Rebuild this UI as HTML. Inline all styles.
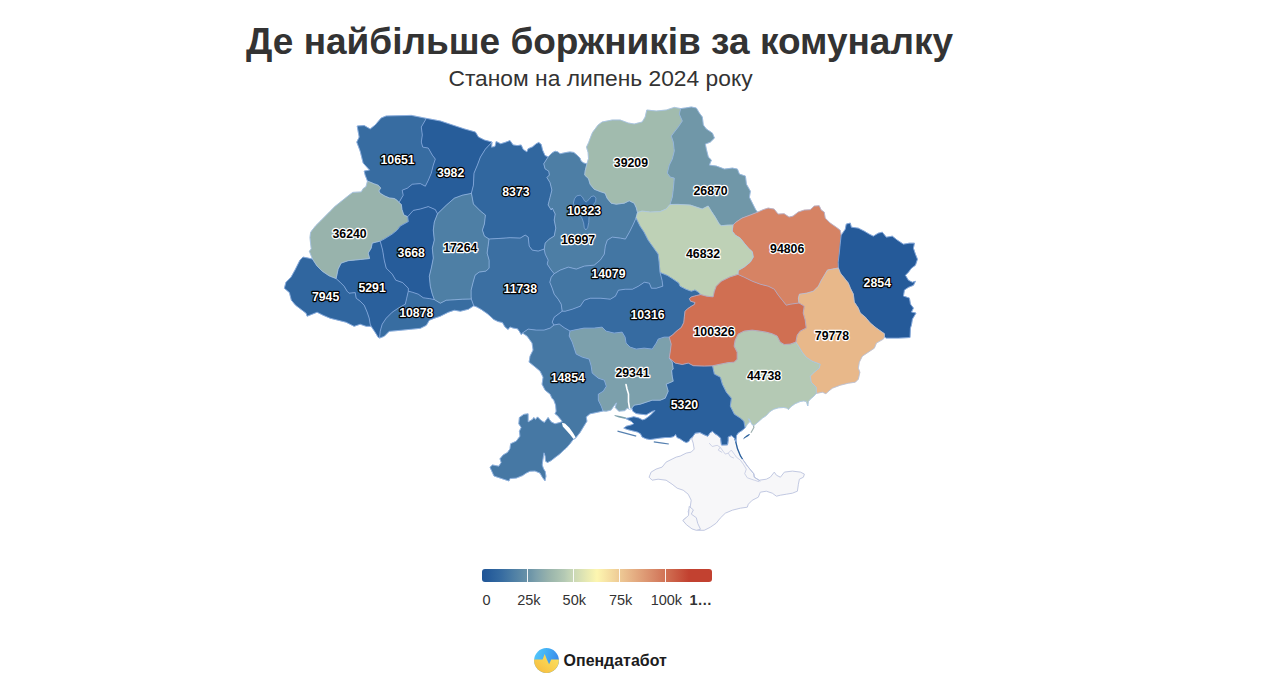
<!DOCTYPE html>
<html lang="uk"><head><meta charset="utf-8"><title>Де найбільше боржників за комуналку</title>
<style>
html,body{margin:0;padding:0;background:#fff;}
body{width:1280px;height:689px;overflow:hidden;position:relative;font-family:"Liberation Sans",sans-serif;}
#map{position:absolute;left:0;top:0;width:1280px;height:689px;}
.ttl{font-family:"Liberation Sans",sans-serif;font-weight:bold;font-size:37px;fill:#333;text-anchor:middle;}
.sub{font-family:"Liberation Sans",sans-serif;font-size:22.8px;fill:#333;text-anchor:middle;}
.dl{font-family:"Liberation Sans",sans-serif;font-weight:bold;font-size:12.3px;text-anchor:middle;paint-order:stroke;stroke-width:2.4px;stroke-linejoin:round;}
.ax{font-family:"Liberation Sans",sans-serif;font-size:14.5px;fill:#333;text-anchor:middle;}
.logo{font-family:"Liberation Sans",sans-serif;font-weight:bold;font-size:15.8px;fill:#1c1c1c;}
</style></head><body>
<svg id="map" width="1280" height="689" viewBox="0 0 1280 689">
<defs>
<linearGradient id="lg" x1="0" x2="1" y1="0" y2="0">
<stop offset="0" stop-color="#1f5597"/><stop offset="0.023" stop-color="#255a99"/><stop offset="0.03" stop-color="#265c9a"/><stop offset="0.0426" stop-color="#2a609c"/><stop offset="0.067" stop-color="#31679f"/><stop offset="0.085" stop-color="#376ca1"/><stop offset="0.138" stop-color="#4e7fa5"/><stop offset="0.215" stop-color="#7097a8"/><stop offset="0.235" stop-color="#7ca0ac"/><stop offset="0.29" stop-color="#98b3ac"/><stop offset="0.314" stop-color="#a1bbae"/><stop offset="0.358" stop-color="#b4c9b4"/><stop offset="0.375" stop-color="#bed1b6"/><stop offset="0.5" stop-color="#fdf6b0"/><stop offset="0.638" stop-color="#e8b88a"/><stop offset="0.758" stop-color="#d68364"/><stop offset="0.803" stop-color="#d06f52"/><stop offset="0.9" stop-color="#c24130"/><stop offset="1" stop-color="#c24130"/>
</linearGradient>
<linearGradient id="lgo" x1="0" x2="1" y1="0" y2="0.3">
<stop offset="0" stop-color="#58cdfb"/><stop offset="0.45" stop-color="#45b2f5"/><stop offset="1" stop-color="#3a86e8"/>
</linearGradient>
<linearGradient id="lgy" x1="0" x2="1" y1="1" y2="0">
<stop offset="0" stop-color="#f6b43a"/><stop offset="0.5" stop-color="#f9cf4e"/><stop offset="1" stop-color="#fbe463"/>
</linearGradient>
<clipPath id="cc"><circle cx="546.5" cy="660.5" r="12.4"/></clipPath>
</defs>
<text x="599.5" y="53.6" class="ttl">Де найбільше боржників за комуналку</text>
<text x="600.5" y="86.4" class="sub">Станом на липень 2024 року</text>
<g id="regions">
<path d="M692.5 436.9 L695.2 433.1 L700 432.5 L703.8 434.5 L707.8 436.2 L710 432.8 L712.5 431.2 L715 433.8 L717.5 435.2 L720.6 438.1 L721.5 445 L727.5 444.8 L728.1 440.6 L728.1 436.9 L731.5 435.6 L734.8 438.5 L736 441.9 L737.5 448.8 L740.6 456.2 L742.5 459 L747.5 466.2 L753.8 473.8 L754.3 477.2 L759.3 480.2 L766.3 479.2 L770.3 477.2 L774.3 472.1 L776.4 475.2 L780.4 477.2 L784.4 472.1 L792.4 471.1 L800.4 472.1 L804.4 474.1 L803.4 477.2 L799.4 479.2 L798.4 484.2 L797.4 491.2 L792.4 493.2 L786.4 494.2 L780.4 495.2 L776.4 496.2 L772.3 493.2 L766.3 491.2 L760.3 492.2 L758.3 497.2 L752.3 500.2 L748.3 504.2 L747.3 507.2 L740.3 508.2 L732.3 510.2 L725.3 513.2 L720.2 518.2 L716.2 523.2 L710.2 527.3 L704.2 530.3 L698.2 530.3 L692.2 528.3 L686.2 524.2 L683.2 520.2 L685.2 518.2 L689.2 517.2 L688.2 511.2 L690.2 507.2 L691.2 500.2 L688.2 494.2 L683.2 490.2 L677.2 488.2 L672.1 484.2 L666.1 480.2 L658.1 479.2 L652.1 480.2 L649.1 477.2 L651.1 472.1 L656.1 469.1 L662.1 467.1 L666.1 462.1 L672.1 459.1 L676.2 457.1 L680.2 456.1 L686.2 453.1 L691.2 452.1 L694.2 449.1 L693.2 443.1 L691.8 439.1 Z" fill="#f7f7f9" stroke="#c2c9e2" stroke-width="1"/>
<path d="M689.2 506.4 L693.4 509.9 L691.3 514.1 L696.3 517.7 L697.7 523.3 L700.5 529.3 L696.3 530.3 L692 528.9 L686.4 524.7 L682.9 520.5 L688.5 515.5 Z" fill="#f7f7f9" stroke="#c2c9e2" stroke-width="1"/>
<path d="M709.2 443.1 L712.2 446.5 L717.2 445.3 L720.2 447.3 L723.2 451.3 L725.3 454.1 L728.3 453.1 L731.3 450.1 L734.3 454.1 L736.3 457.1 L740.3 460.1 L743.3 464.1 L746.3 469.1 L744.7 473.7 L747.3 477.8 L754.3 480.2 L759.3 481.8" fill="none" stroke="#c8cee4" stroke-width="0.9"/>
<path d="M720.2 447.3 L718.2 450.1 L722.2 452.5" fill="none" stroke="#c8cee4" stroke-width="0.9"/>
<path d="M728.3 453.1 L730.3 456.5 L733.9 458.1" fill="none" stroke="#c8cee4" stroke-width="0.9"/>
<path d="M367.5 181 L365.2 175.1 L364.2 171.1 L369.6 170.1 L363.2 163.1 L360.2 151.1 L356.8 142.1 L359.2 137.1 L357.2 126 L364.2 125.6 L370.2 129 L375.2 125 L381.2 118 L386.2 116 L411.3 115.4 L426.3 118.4 L421.3 127 L422.3 135.1 L421.3 142.1 L422.7 147.1 L428.3 148.1 L432.3 155.1 L435.3 159.1 L433.3 165.1 L431.3 173.1 L428.3 180.2 L425.3 186.2 L420.3 183.6 L412.3 184.2 L407.3 188.2 L402.2 190.2 L403.2 195.2 L399 202.5 L397.2 200.4 L394.3 198.5 L389.6 198 L384.9 196.1 L380.2 193.3 L378.8 190.9 L380.7 188.1 L378.3 185.3 L374.5 183.9 L369.8 182 Z" fill="#376ca1" stroke="#376ca1" stroke-width="0.6"/>
<path d="M426.3 118.4 L440.3 121 L452.3 125 L464.4 129 L475.4 132.1 L478.4 137.1 L484.4 140.1 L492 142.1 L485.4 149.1 L480.4 157.1 L477.4 165.1 L474 173.1 L473.4 185.2 L471.4 193.2 L469.4 193.8 L462.4 195.2 L454.3 198.2 L446.3 205.2 L437.5 213.8 L435.3 209.6 L428.3 206.6 L420.3 209 L413.3 210.4 L407.7 216.7 L403.8 215 L401.9 209.3 L401.4 204.6 L399 202.5 L403.2 195.2 L402.2 190.2 L407.3 188.2 L412.3 184.2 L420.3 183.6 L425.3 186.2 L428.3 180.2 L431.3 173.1 L433.3 165.1 L435.3 159.1 L432.3 155.1 L428.3 148.1 L422.7 147.1 L421.3 142.1 L422.3 135.1 L421.3 127 Z" fill="#275d9a" stroke="#275d9a" stroke-width="0.6"/>
<path d="M492 142.1 L491.5 147.2 L495 146.5 L496.2 141.5 L500.6 143.8 L505 142.5 L510 140.6 L513.1 145 L517.5 145.6 L521.2 145 L523.1 149.4 L526.9 151.9 L528.1 148.8 L532.5 146.9 L536.2 143.8 L538.8 142.5 L541.2 144.4 L542.5 150 L545 155.6 L548.1 156.9 L543.75 163.75 L545 168.75 L548.75 171.25 L549.4 175 L546.9 177.5 L550 182.5 L551.9 190 L550 197.5 L548.1 205 L551.25 210 L552.2 208 L555.2 214 L554.2 220 L555.8 228.1 L554.2 236.1 L549.2 239.1 L545.2 243.1 L544.2 249.1 L538.2 251.1 L532.2 250.1 L529.2 246.1 L528.2 237.1 L525.2 235.1 L520.2 238.1 L510.1 237.7 L498.1 238.5 L489 239 L484.4 236.1 L482.4 230.1 L484.4 224 L485.4 215 L480.4 211 L473.4 204 L471.4 193.2 L473.4 185.2 L474 173.1 L477.4 165.1 L480.4 157.1 L485.4 149.1 Z" fill="#31679f" stroke="#31679f" stroke-width="0.6"/>
<path d="M548.1 156.9 L551.9 153.1 L555 151.2 L558.1 151.9 L560 153.8 L566.2 152.5 L570 151.9 L573.8 152.5 L576.9 155 L580 158.1 L581.2 161.2 L583.8 163.1 L586.9 163.8 L585.1 171.1 L584.7 175.1 L588.5 178.7 L590.1 184.2 L594.1 189.2 L600.1 191.6 L605.1 193.2 L607.1 198.2 L611.2 203.2 L616.2 204.2 L624.2 203.2 L629.2 200.8 L634.2 203.2 L636.2 207.6 L637.5 212.5 L636 218 L633.4 224 L629.4 232.1 L625.4 239.1 L620.4 238.1 L612.3 237.1 L607.3 240.1 L605.3 246.1 L604.3 254.1 L600.3 260.1 L594.3 265.1 L584.3 266.1 L576.3 269.1 L568.3 267.1 L560.2 270.1 L554.2 273.7 L551.2 270.1 L547.2 264.1 L548.2 260.1 L545.2 254.1 L544.2 249.1 L545.2 243.1 L549.2 239.1 L554.2 236.1 L555.8 228.1 L554.2 220 L555.2 214 L552.2 208 L551.25 210 L548.1 205 L550 197.5 L551.9 190 L550 182.5 L546.9 177.5 L549.4 175 L548.75 171.25 L545 168.75 L543.75 163.75 Z" fill="#4d7ea5" stroke="#4d7ea5" stroke-width="0.6"/>
<path d="M586.9 163.8 L588.5 158.5 L588.1 152.5 L586.5 147.1 L588.7 142.5 L590.5 137.5 L592.5 132.5 L598.1 125 L602.1 122 L612.2 120 L620.2 120 L628.2 123 L634.2 124 L642.2 122 L645.2 117 L646.8 110 L656.2 111 L666.3 110 L674.3 107.4 L680.7 108.6 L679.3 114 L682.3 121 L678.3 127 L674.3 132.1 L671.3 136.1 L673.3 142.1 L674.3 151.1 L672.3 159.1 L669.3 165.1 L667.3 173.1 L670.3 177.1 L674.3 178.1 L673.3 189.2 L672.3 197.2 L670 204.5 L666.1 209 L660.1 211.6 L650.1 212 L642 211 L637.5 212.5 L636.2 207.6 L634.2 203.2 L629.2 200.8 L624.2 203.2 L616.2 204.2 L611.2 203.2 L607.1 198.2 L605.1 193.2 L600.1 191.6 L594.1 189.2 L590.1 184.2 L588.5 178.7 L584.7 175.1 L585.1 171.1 Z" fill="#a1bbae" stroke="#a1bbae" stroke-width="0.6"/>
<path d="M680.7 108.6 L685.3 108 L691.3 107 L696.3 108 L699.3 113 L702.3 117 L703.3 125 L706.3 129 L712.4 133.1 L714.4 138.1 L710.3 142.1 L705.3 144.1 L706.3 149.1 L708.3 157.1 L711.4 160.1 L709.3 165.1 L716.4 166.1 L724.4 169.1 L732.4 168.1 L737.4 169.1 L739.4 174.1 L745.4 176.1 L746.4 184.2 L750.4 191.2 L749.4 197.2 L752.4 203.2 L755.4 209.2 L757.5 212.2 L750.1 215.1 L742 218.1 L736 222.1 L733 225 L728.2 225.1 L721.2 225.7 L719.2 224 L715.2 217 L711.2 211 L708.2 206 L702.2 209 L696.2 207 L690.1 205 L678.1 204.4 L670 204.5 L672.3 197.2 L673.3 189.2 L674.3 178.1 L670.3 177.1 L667.3 173.1 L669.3 165.1 L672.3 159.1 L674.3 151.1 L673.3 142.1 L671.3 136.1 L674.3 132.1 L678.3 127 L682.3 121 L679.3 114 Z" fill="#7097a8" stroke="#7097a8" stroke-width="0.6"/>
<path d="M757.5 212.2 L763.1 209.7 L768.1 208.1 L774.1 209.1 L778.1 214.1 L784.1 213.7 L789.1 217.1 L793.1 216.1 L798.2 212.1 L804.2 210.1 L810.2 209.7 L814.2 206.1 L819.2 205.7 L821.2 210.1 L824.2 212.1 L825.2 218.1 L830.2 223.1 L836.2 227.2 L840.2 230.2 L841.2 235.2 L840.2 244.2 L839.2 254.2 L838.2 262.2 L838.4 268 L832.4 269.1 L827.4 270.1 L824.4 275.2 L821.4 280.2 L818.4 286.2 L813.4 291.2 L806.4 293.2 L799.4 294.2 L798.4 298.2 L799 303 L790.3 304.2 L786.3 305.2 L782.3 300.2 L778.3 295.2 L774.3 289.2 L768.3 286.2 L760.3 284.2 L752.3 281.2 L744.2 277.2 L738 274.4 L738.2 270.5 L744.2 267.1 L750.3 262.1 L753.3 257.1 L752.3 251.7 L748.3 248.1 L744.2 243.1 L740.2 238.1 L735.2 235.1 L732.2 231.1 L733 225 L736 222.1 L742 218.1 L750.1 215.1 Z" fill="#d68364" stroke="#d68364" stroke-width="0.6"/>
<path d="M841.2 235.2 L845.3 229.2 L846.3 224.1 L850.3 223.1 L851.3 227.2 L858.3 228.2 L864.3 231.2 L869.3 234.2 L873.3 236.2 L878.3 233.2 L882.3 232.2 L886.3 237.2 L892.3 236.2 L897.4 240.2 L903.4 244.2 L909.4 243.2 L914.4 243.2 L913.4 248.2 L915.4 254.2 L917.4 259.2 L915.4 265.2 L911.4 268.2 L908.4 272.2 L905.4 275.3 L908.4 280.3 L912.4 282.3 L915.4 281.3 L913.4 285.3 L908.4 287.3 L904.4 290 L903.4 296.1 L909.4 298.1 L910.4 304.1 L913.4 308.1 L911.4 312.1 L916 313.1 L912.4 319.1 L911.4 325.1 L910.4 328.1 L910 337.5 L898.4 338.1 L886.4 338.1 L884.4 337 L884.4 333.7 L876.4 328.1 L870.3 323.1 L865.3 317.1 L860.3 313.1 L858.3 308.1 L854.3 302.1 L853.3 294 L850.3 288 L848.3 283 L844.3 278 L840.3 273 L838.4 268 L838.2 262.2 L839.2 254.2 L840.2 244.2 Z" fill="#255a99" stroke="#255a99" stroke-width="0.6"/>
<path d="M884.4 337 L883.4 339.1 L876.4 343.1 L874.3 348.2 L868.3 352.2 L862.3 356.2 L859.3 362.2 L858.3 368.2 L859.9 372.2 L858.3 379.2 L855.3 382.2 L848.3 383.2 L840.3 385.2 L832.3 388.2 L827.9 391.8 L825.9 393.8 L822.6 392.2 L816.3 393.4 L816.2 387.2 L811.2 382.2 L810.2 376.2 L814.2 372.2 L819.2 368.2 L820.2 364.2 L812.2 361.2 L806.2 357.2 L802.2 352.2 L799.2 347.2 L795.8 342.1 L797.2 335.1 L800.2 331.1 L806.2 328.1 L805.2 320.1 L803.2 313.1 L804.2 306.1 L799 303 L798.4 298.2 L799.4 294.2 L806.4 293.2 L813.4 291.2 L818.4 286.2 L821.4 280.2 L824.4 275.2 L827.4 270.1 L832.4 269.1 L838.4 268 L840.3 273 L844.3 278 L848.3 283 L850.3 288 L853.3 294 L854.3 302.1 L858.3 308.1 L860.3 313.1 L865.3 317.1 L870.3 323.1 L876.4 328.1 L884.4 333.7 Z" fill="#e8b88a" stroke="#e8b88a" stroke-width="0.6"/>
<path d="M816.3 393.4 L813.75 396.25 L810 399.4 L808.4 401.6 L807.8 406 L806.4 401.6 L803.75 400.9 L800 401.6 L795 403.75 L790.6 406.9 L788.4 409.6 L786.9 408.1 L783.75 407.5 L778.75 407.8 L773.75 409.2 L770 411.5 L766.25 415.6 L762.5 418.1 L757.5 422.5 L754.4 425.1 L752.5 425 L751.25 423.1 L749.4 419.1 L748.4 418.75 L749.9 421.6 L747.5 424.1 L745.3 427.5 L745.1 427.9 L743.8 421.2 L740.4 418.2 L734.3 414.2 L730.3 406.2 L731.3 398.2 L726.3 392.2 L722.3 384.2 L720.3 377.2 L714.3 374.1 L712.5 365.8 L720 364.2 L728.1 362.6 L734.1 362.2 L737.1 359.2 L737.1 352.2 L734.1 346.2 L735.1 340.1 L738.1 334.1 L744.1 331.1 L752.1 330.1 L760.1 331.1 L766.1 332.1 L772.1 333.7 L777.2 336.1 L780.2 342.1 L784.2 344.5 L790.2 344.1 L795.8 342.1 L799.2 347.2 L802.2 352.2 L806.2 357.2 L812.2 361.2 L820.2 364.2 L819.2 368.2 L814.2 372.2 L810.2 376.2 L811.2 382.2 L816.2 387.2 Z" fill="#b4c9b4" stroke="#b4c9b4" stroke-width="0.6"/>
<path d="M745.1 427.9 L741.9 430.6 L738.1 433.1 L736.5 435.6 L736 441.9 L734.8 438.5 L731.5 435.6 L728.1 436.9 L728.1 440.6 L727.5 444.8 L721.5 445 L720.6 438.1 L717.5 435.2 L715 433.8 L712.5 431.2 L710 432.8 L707.8 436.2 L703.8 434.5 L700 432.5 L695.2 433.1 L692.5 436.9 L690.2 438.8 L688.8 441.5 L686.2 442.5 L683.5 441.2 L680 438.8 L677 437.5 L675.6 434.4 L673.8 436.5 L670 437.5 L665 437.5 L660 438.1 L655 438.8 L650 439.5 L646.2 438.8 L642.1 437 L640.6 433.8 L637.5 432 L632.5 430.8 L627.5 429.5 L623.8 428.1 L626.5 426.2 L631.2 425 L633.8 423.8 L631.2 421.2 L625.6 418.5 L628.8 418 L633.8 416.8 L638.8 418 L642.5 419.9 L645 419.2 L650 415.6 L655 410.5 L652.5 411.2 L646.2 414.8 L640 414.1 L636.2 413.5 L632.8 411.2 L631.9 408.1 L634.1 405.2 L640.2 404.2 L646.2 402.2 L652.2 400.2 L660.2 400.2 L665.2 398.2 L668.2 391.2 L666.2 384.2 L673.2 381.2 L672.2 376.2 L671.6 370.5 L673.2 369.1 L672.2 362.1 L669.2 358.1 L675.2 363.1 L682.2 364.5 L688.3 363.1 L693.3 365.7 L704.3 366.1 L712.5 365.8 L714.3 374.1 L720.3 377.2 L722.3 384.2 L726.3 392.2 L731.3 398.2 L730.3 406.2 L734.3 414.2 L740.4 418.2 L743.8 421.2 Z" fill="#2a609c" stroke="#2a609c" stroke-width="0.6"/>
<path d="M631.9 408.1 L630.6 410 L629 409 L627.2 408.1 L625 410.6 L618.8 411.2 L615.2 407.5 L616.5 402.8 L613.5 406.5 L611.2 410 L606.2 411.2 L603 411 L601.3 406.2 L598.3 400.2 L598.3 394.2 L603.3 391.2 L606.3 386.2 L604.3 380.2 L598.3 378.2 L592.2 373.1 L591.2 366.1 L589.2 359.1 L582.2 357.1 L576.2 354.1 L574.2 348.1 L572.2 342.1 L569.2 336.1 L570 331 L574 330.1 L584 328.1 L594.1 328.1 L602.1 327.1 L606.1 331.1 L614.1 333.1 L622.1 332.1 L625.1 337.1 L626.1 343.1 L630.1 347.1 L636.2 349.1 L644.2 348.1 L652.2 349.1 L656.2 343.1 L658.2 339.1 L664.2 337.1 L669.2 337.1 L671.2 344.1 L670.2 352.1 L669.2 358.1 L672.2 362.1 L673.2 369.1 L671.6 370.5 L672.2 376.2 L673.2 381.2 L666.2 384.2 L668.2 391.2 L665.2 398.2 L660.2 400.2 L652.2 400.2 L646.2 402.2 L640.2 404.2 L634.1 405.2 Z" fill="#7ca0ac" stroke="#7ca0ac" stroke-width="0.6"/>
<path d="M603 411 L596.2 412.5 L590 413.8 L586.2 416.9 L586.9 421.2 L583.8 426.2 L580 432.5 L575.6 438.1 L573.1 439.6 L570 443.8 L566.2 448.1 L562.5 451.2 L560 453.8 L555 457.5 L551.2 460.6 L547.5 462.5 L545.6 461.2 L545.2 456.2 L544 452.8 L542.8 460 L542.2 465 L543.5 468.8 L545.2 471.5 L545.9 476.2 L545 480.8 L542.5 477.5 L540 473.1 L535 471 L530 471.2 L526.2 473.1 L522.5 475.6 L516.2 478.1 L510 478.5 L509 481 L494 476 L490 467.2 L492.5 465 L498.8 466.2 L501.2 462.5 L500 458.8 L503.1 455 L507.5 452.5 L510 448.8 L510.6 443.8 L516.2 441.2 L520 436.2 L519.4 431.2 L521.2 427.5 L518.8 423.8 L519.4 417.5 L523.8 414.4 L528.1 413.8 L528.1 421.9 L532.5 419.4 L533.8 417.5 L535.6 419.4 L537.5 416.9 L541.2 420.6 L544.4 422.5 L548.1 417.5 L551.2 421.9 L555 423.8 L560 422.5 L562.2 421.6 L561.2 420 L557.5 415.6 L555 413.8 L556.2 411.2 L555.6 405 L553.8 400 L551.9 398.1 L550.2 394.2 L545.2 390.2 L542.1 384.2 L543.1 377.2 L540.1 371.1 L534.1 366.1 L529.1 362.1 L530.1 356.1 L533.1 350.1 L532.1 343.1 L527.1 336.1 L522.5 333 L528.1 329.1 L536.1 330.1 L544.1 330.1 L550.2 328.1 L554 325 L559.2 324 L564.2 327.7 L570 331 L569.2 336.1 L572.2 342.1 L574.2 348.1 L576.2 354.1 L582.2 357.1 L589.2 359.1 L591.2 366.1 L592.2 373.1 L598.3 378.2 L604.3 380.2 L606.3 386.2 L603.3 391.2 L598.3 394.2 L598.3 400.2 L601.3 406.2 Z" fill="#4678a4" stroke="#4678a4" stroke-width="0.6"/>
<path d="M522.5 333 L521.3 334.6 L519.5 331.5 L517.5 328.75 L513 328 L510 326.9 L508.1 329.4 L505 326.9 L502.5 322.5 L498 321.5 L493.75 319.4 L487.5 313.75 L481.25 309.4 L477 307 L473.75 305.8 L471.3 299 L471.1 296.2 L471.1 290.2 L473.1 282.2 L475.1 275.2 L479.1 272.1 L486.1 271.1 L489.1 268.1 L489.1 260.1 L487.1 253.1 L488.1 246.1 L489 239 L498.1 238.5 L510.1 237.7 L520.2 238.1 L525.2 235.1 L528.2 237.1 L529.2 246.1 L532.2 250.1 L538.2 251.1 L544.2 249.1 L545.2 254.1 L548.2 260.1 L547.2 264.1 L551.2 270.1 L554.2 273.7 L551.2 277.2 L549.8 282.2 L552.2 288.2 L554.2 294.2 L558.2 299.2 L561.2 304.2 L562.2 311.2 L558.2 314.2 L554.2 317.2 L552.2 322.2 L554 325 L550.2 328.1 L544.1 330.1 L536.1 330.1 L528.1 329.1 Z" fill="#3b6fa2" stroke="#3b6fa2" stroke-width="0.6"/>
<path d="M473.75 305.8 L468.4 309.2 L460.4 311.2 L454.3 310.2 L448.3 312.2 L440.3 316.2 L434.3 318.2 L429.3 320.2 L426.3 325.3 L420.3 328.3 L410.3 329.3 L400.2 330.3 L389.2 331.3 L384.2 336.3 L379.6 338 L380.2 331.3 L382.2 324.2 L386.2 318.2 L392.2 312.2 L398.2 308.2 L405.3 304.2 L406.7 298.2 L408.3 291.2 L412.3 292.2 L418.3 294.2 L423.3 297.8 L429.3 298.6 L434.3 299.6 L440.3 303.2 L446.3 300.2 L454.3 299.8 L462.4 299.2 L471.3 299 Z" fill="#386da1" stroke="#386da1" stroke-width="0.6"/>
<path d="M379.6 338 L378.2 337.3 L375.2 332.3 L371.2 326.3 L370.2 324.2 L369.2 318.2 L367.2 312.2 L364.2 305.2 L360.2 301.2 L356.2 298.2 L355.2 292.6 L349.1 293.2 L347.1 291.2 L344.1 286.2 L340.1 282.2 L336.1 278.6 L338.1 269.1 L341.1 263.1 L348.1 260.7 L360.2 259.5 L369.6 258.5 L368.2 253.1 L371.2 248.1 L372.2 243.1 L376.2 242.1 L380.2 241.1 L382.6 250.1 L384.2 260.1 L386.2 268.1 L392.2 274.1 L395.8 280.2 L402.6 282.6 L408.3 288.2 L408.3 291.2 L406.7 298.2 L405.3 304.2 L398.2 308.2 L392.2 312.2 L386.2 318.2 L382.2 324.2 L380.2 331.3 Z" fill="#2a609c" stroke="#2a609c" stroke-width="0.6"/>
<path d="M371.2 326.3 L366.2 326.3 L360.2 324.2 L354.1 326.3 L346.1 322.2 L338.1 320.2 L330.1 318.2 L323.1 315.2 L317.1 312.2 L312.1 314.2 L307.1 316.2 L306.1 313.2 L300 308.6 L295.6 305.2 L291.4 300.2 L289.4 292.6 L284.4 288.2 L286 282.2 L291 277.2 L295 270.1 L298 264.1 L300 260.1 L303 257.1 L308.1 258.1 L312.5 259.1 L317.1 266.1 L322.1 271.1 L329.1 275.8 L336.1 278.6 L340.1 282.2 L344.1 286.2 L347.1 291.2 L349.1 293.2 L355.2 292.6 L356.2 298.2 L360.2 301.2 L364.2 305.2 L367.2 312.2 L369.2 318.2 L370.2 324.2 Z" fill="#30669f" stroke="#30669f" stroke-width="0.6"/>
<path d="M312.5 259.1 L309.4 251.25 L311.25 248.75 L310.6 243.75 L310 237.5 L310.6 232.5 L312.3 230 L316 225.4 L320.8 220.7 L325.5 215.9 L330.2 211.2 L334.9 206.5 L339.6 202.7 L344.3 199 L349 195.2 L352.8 192.4 L361.3 191.9 L363.2 188.6 L366 186.7 L367.5 181 L369.8 182 L374.5 183.9 L378.3 185.3 L380.7 188.1 L378.8 190.9 L380.2 193.3 L384.9 196.1 L389.6 198 L394.3 198.5 L397.2 200.4 L399 202.5 L401.4 204.6 L401.9 209.3 L403.8 215 L407.7 216.7 L408.3 221.6 L400.2 226.1 L397.2 230.1 L392.2 234.1 L384.2 239.1 L380.2 241.1 L376.2 242.1 L372.2 243.1 L371.2 248.1 L368.2 253.1 L369.6 258.5 L360.2 259.5 L348.1 260.7 L341.1 263.1 L338.1 269.1 L336.1 278.6 L329.1 275.8 L322.1 271.1 L317.1 266.1 Z" fill="#98b3ac" stroke="#98b3ac" stroke-width="0.6"/>
<path d="M407.7 216.7 L413.3 210.4 L420.3 209 L428.3 206.6 L435.3 209.6 L437.5 213.8 L434.3 222 L433.3 230.1 L434.3 240.1 L432.3 248.1 L433.3 258.1 L431.3 268.1 L429.3 276.2 L430.3 286.2 L432.3 294.2 L434.3 299.6 L429.3 298.6 L423.3 297.8 L418.3 294.2 L412.3 292.2 L408.3 291.2 L408.3 288.2 L402.6 282.6 L395.8 280.2 L392.2 274.1 L386.2 268.1 L384.2 260.1 L382.6 250.1 L380.2 241.1 L384.2 239.1 L392.2 234.1 L397.2 230.1 L400.2 226.1 L408.3 221.6 Z" fill="#265c9a" stroke="#265c9a" stroke-width="0.6"/>
<path d="M437.5 213.8 L446.3 205.2 L454.3 198.2 L462.4 195.2 L469.4 193.8 L471.4 193.2 L473.4 204 L480.4 211 L485.4 215 L484.4 224 L482.4 230.1 L484.4 236.1 L489 239 L488.1 246.1 L487.1 253.1 L489.1 260.1 L489.1 268.1 L486.1 271.1 L479.1 272.1 L475.1 275.2 L473.1 282.2 L471.1 290.2 L471.1 296.2 L471.3 299 L462.4 299.2 L454.3 299.8 L446.3 300.2 L440.3 303.2 L434.3 299.6 L432.3 294.2 L430.3 286.2 L429.3 276.2 L431.3 268.1 L433.3 258.1 L432.3 248.1 L434.3 240.1 L433.3 230.1 L434.3 222 Z" fill="#4e7fa5" stroke="#4e7fa5" stroke-width="0.6"/>
<path d="M637.5 212.5 L642 211 L650.1 212 L660.1 211.6 L666.1 209 L670 204.5 L678.1 204.4 L690.1 205 L696.2 207 L702.2 209 L708.2 206 L711.2 211 L715.2 217 L719.2 224 L721.2 225.7 L728.2 225.1 L733 225 L732.2 231.1 L735.2 235.1 L740.2 238.1 L744.2 243.1 L748.3 248.1 L752.3 251.7 L753.3 257.1 L750.3 262.1 L744.2 267.1 L738.2 270.5 L738 274.4 L730 276.9 L721.25 281.25 L716.25 286.25 L714.4 291.25 L713.1 296.9 L706.5 296.2 L700.6 294.6 L698.75 292.5 L695 290 L691.25 291.25 L686.25 289.4 L680 286.25 L678.75 283.1 L672.5 278.75 L667.5 275.6 L660 272.4 L659.1 262.1 L658.1 254.1 L653.1 247.1 L648.1 240.1 L644 232.1 L640 226.1 L636 218 Z" fill="#bed1b6" stroke="#bed1b6" stroke-width="0.6"/>
<path d="M554.2 273.7 L560.2 270.1 L568.3 267.1 L576.3 269.1 L584.3 266.1 L594.3 265.1 L600.3 260.1 L604.3 254.1 L605.3 246.1 L607.3 240.1 L612.3 237.1 L620.4 238.1 L625.4 239.1 L629.4 232.1 L633.4 224 L636 218 L640 226.1 L644 232.1 L648.1 240.1 L653.1 247.1 L658.1 254.1 L659.1 262.1 L660 272.4 L662 280.2 L662.8 286.2 L656.4 288.2 L651.4 288.2 L649.4 283.2 L644.4 282.2 L638.4 286.2 L632.4 289.2 L625.4 289.2 L618.4 290.2 L615.4 296.2 L610.3 299.2 L600.3 298.2 L590.3 298.2 L584.3 300.2 L580.3 306.2 L572.3 309.2 L565.3 311.2 L562.2 311.2 L561.2 304.2 L558.2 299.2 L554.2 294.2 L552.2 288.2 L549.8 282.2 L551.2 277.2 Z" fill="#4376a3" stroke="#4376a3" stroke-width="0.6"/>
<path d="M562.2 311.2 L565.3 311.2 L572.3 309.2 L580.3 306.2 L584.3 300.2 L590.3 298.2 L600.3 298.2 L610.3 299.2 L615.4 296.2 L618.4 290.2 L625.4 289.2 L632.4 289.2 L638.4 286.2 L644.4 282.2 L649.4 283.2 L651.4 288.2 L656.4 288.2 L662.8 286.2 L662 280.2 L660 272.4 L667.5 275.6 L672.5 278.75 L678.75 283.1 L680 286.25 L686.25 289.4 L691.25 291.25 L695 290 L698.75 292.5 L700.6 294.6 L696.25 295.6 L691.25 296.9 L689.4 298.75 L690.6 301.25 L695 302.5 L694.4 304.4 L691.25 306.25 L687.5 308.75 L685 311.25 L684.4 316.25 L683.75 322.5 L681.25 327.5 L676.25 331.25 L672.5 335 L669.2 337.1 L664.2 337.1 L658.2 339.1 L656.2 343.1 L652.2 349.1 L644.2 348.1 L636.2 349.1 L630.1 347.1 L626.1 343.1 L625.1 337.1 L622.1 332.1 L614.1 333.1 L606.1 331.1 L602.1 327.1 L594.1 328.1 L584 328.1 L574 330.1 L570 331 L564.2 327.7 L559.2 324 L554 325 L552.2 322.2 L554.2 317.2 L558.2 314.2 Z" fill="#366ba1" stroke="#366ba1" stroke-width="0.6"/>
<path d="M700.6 294.6 L706.5 296.2 L713.1 296.9 L714.4 291.25 L716.25 286.25 L721.25 281.25 L730 276.9 L738 274.4 L744.2 277.2 L752.3 281.2 L760.3 284.2 L768.3 286.2 L774.3 289.2 L778.3 295.2 L782.3 300.2 L786.3 305.2 L790.3 304.2 L799 303 L804.2 306.1 L803.2 313.1 L805.2 320.1 L806.2 328.1 L800.2 331.1 L797.2 335.1 L795.8 342.1 L790.2 344.1 L784.2 344.5 L780.2 342.1 L777.2 336.1 L772.1 333.7 L766.1 332.1 L760.1 331.1 L752.1 330.1 L744.1 331.1 L738.1 334.1 L735.1 340.1 L734.1 346.2 L737.1 352.2 L737.1 359.2 L734.1 362.2 L728.1 362.6 L720 364.2 L712.5 365.8 L704.3 366.1 L693.3 365.7 L688.3 363.1 L682.2 364.5 L675.2 363.1 L669.2 358.1 L670.2 352.1 L671.2 344.1 L669.2 337.1 L672.5 335 L676.25 331.25 L681.25 327.5 L683.75 322.5 L684.4 316.25 L685 311.25 L687.5 308.75 L691.25 306.25 L694.4 304.4 L695 302.5 L690.6 301.25 L689.4 298.75 L691.25 296.9 L696.25 295.6 Z" fill="#d06f52" stroke="#d06f52" stroke-width="0.6"/>
<path d="M573.4 203.1 L574.5 198.8 L576.7 195.9 L580.3 195.2 L582.5 197.3 L584.3 200.6 L586.1 202.1 L589 199.5 L591.2 196.6 L594.1 195.9 L595.9 198.1 L595.6 201.7 L593.4 204.6 L591.2 208.9 L589 216.9 L588.7 222.7 L587.6 227.8 L585.8 230 L584.3 227.8 L583.6 222.7 L581.8 217.7 L578.9 214 L575.6 208.9 Z" fill="#366ba1" stroke="rgba(165,195,245,0.62)" stroke-width="0.8"/>
<path d="M614.4 415 L620 416 L626.2 417.5 L625.6 419 L618.8 417.5 L614.8 416 Z" fill="#7ca0ac"/>
<path d="M626 384.5 L627 389 L628.5 394 L628.5 402 L629.5 408 L631 411" fill="none" stroke="#fff" stroke-width="1.6" stroke-linecap="round"/>
<path d="M617.5 431.2 L625 433.1 L636.2 436.2" fill="none" stroke="#2a609c" stroke-width="1.2" opacity="0.8"/>
<path d="M653.8 441.9 L662.5 443.1 L668.8 444" fill="none" stroke="#2a609c" stroke-width="1.2" opacity="0.8"/>
<path d="M735 438.8 L737.5 448.8 L740.6 456.2 L742.5 459" fill="none" stroke="#2a609c" stroke-width="1.3"/>
<path d="M742.5 459 L747.5 466.2 L753.8 473.8 L754.3 477.2 L760.3 481.2" fill="none" stroke="#b9c3e0" stroke-width="1"/>
<path d="M753.4 425.3 L753.9 427.5 L752.5 430 L750.9 432.8" fill="none" stroke="#9fb0b0" stroke-width="1.2"/>
<path d="M750 434.4 L748.1 436.2 L745 438.1 L743.1 439.4 L744.1 437.5 L746.9 435.3 L749.1 434.1 Z" fill="#2a609c"/>
<path d="M561.9 422.8 L565 423.5 L569.4 427.8 L573.1 433.1 L575.8 437.5 L573.5 439 L570.2 434.8 L566.2 430.2 L562.8 426.5 Z" fill="#fff"/>
<path d="M367.5 181 L365.2 175.1 L364.2 171.1 L369.6 170.1 L363.2 163.1 L360.2 151.1 L356.8 142.1 L359.2 137.1 L357.2 126 L364.2 125.6 L370.2 129 L375.2 125 L381.2 118 L386.2 116 L411.3 115.4 L426.3 118.4" fill="none" stroke="rgba(165,195,245,0.62)" stroke-width="1"/>
<path d="M426.3 118.4 L440.3 121 L452.3 125 L464.4 129 L475.4 132.1 L478.4 137.1 L484.4 140.1 L492 142.1" fill="none" stroke="rgba(165,195,245,0.62)" stroke-width="1"/>
<path d="M492 142.1 L491.5 147.2 L495 146.5 L496.2 141.5 L500.6 143.8 L505 142.5 L510 140.6 L513.1 145 L517.5 145.6 L521.2 145 L523.1 149.4 L526.9 151.9 L528.1 148.8 L532.5 146.9 L536.2 143.8 L538.8 142.5 L541.2 144.4 L542.5 150 L545 155.6 L548.1 156.9" fill="none" stroke="rgba(165,195,245,0.62)" stroke-width="1"/>
<path d="M548.1 156.9 L551.9 153.1 L555 151.2 L558.1 151.9 L560 153.8 L566.2 152.5 L570 151.9 L573.8 152.5 L576.9 155 L580 158.1 L581.2 161.2 L583.8 163.1 L586.9 163.8" fill="none" stroke="rgba(165,195,245,0.62)" stroke-width="1"/>
<path d="M586.9 163.8 L588.5 158.5 L588.1 152.5 L586.5 147.1 L588.7 142.5 L590.5 137.5 L592.5 132.5 L598.1 125 L602.1 122 L612.2 120 L620.2 120 L628.2 123 L634.2 124 L642.2 122 L645.2 117 L646.8 110 L656.2 111 L666.3 110 L674.3 107.4 L680.7 108.6" fill="none" stroke="rgba(165,195,245,0.62)" stroke-width="1"/>
<path d="M680.7 108.6 L685.3 108 L691.3 107 L696.3 108 L699.3 113 L702.3 117 L703.3 125 L706.3 129 L712.4 133.1 L714.4 138.1 L710.3 142.1 L705.3 144.1 L706.3 149.1 L708.3 157.1 L711.4 160.1 L709.3 165.1 L716.4 166.1 L724.4 169.1 L732.4 168.1 L737.4 169.1 L739.4 174.1 L745.4 176.1 L746.4 184.2 L750.4 191.2 L749.4 197.2 L752.4 203.2 L755.4 209.2 L757.5 212.2" fill="none" stroke="rgba(165,195,245,0.62)" stroke-width="1"/>
<path d="M757.5 212.2 L763.1 209.7 L768.1 208.1 L774.1 209.1 L778.1 214.1 L784.1 213.7 L789.1 217.1 L793.1 216.1 L798.2 212.1 L804.2 210.1 L810.2 209.7 L814.2 206.1 L819.2 205.7 L821.2 210.1 L824.2 212.1 L825.2 218.1 L830.2 223.1 L836.2 227.2 L840.2 230.2 L841.2 235.2" fill="none" stroke="rgba(165,195,245,0.62)" stroke-width="1"/>
<path d="M841.2 235.2 L845.3 229.2 L846.3 224.1 L850.3 223.1 L851.3 227.2 L858.3 228.2 L864.3 231.2 L869.3 234.2 L873.3 236.2 L878.3 233.2 L882.3 232.2 L886.3 237.2 L892.3 236.2 L897.4 240.2 L903.4 244.2 L909.4 243.2 L914.4 243.2 L913.4 248.2 L915.4 254.2 L917.4 259.2 L915.4 265.2 L911.4 268.2 L908.4 272.2 L905.4 275.3 L908.4 280.3 L912.4 282.3 L915.4 281.3 L913.4 285.3 L908.4 287.3 L904.4 290" fill="none" stroke="rgba(165,195,245,0.62)" stroke-width="1"/>
<path d="M904.4 290 L903.4 296.1 L909.4 298.1 L910.4 304.1 L913.4 308.1 L911.4 312.1 L916 313.1 L912.4 319.1 L911.4 325.1 L910.4 328.1 L910 337.5 L898.4 338.1 L886.4 338.1 L884.4 337" fill="none" stroke="rgba(165,195,245,0.62)" stroke-width="1"/>
<path d="M884.4 337 L883.4 339.1 L876.4 343.1 L874.3 348.2 L868.3 352.2 L862.3 356.2 L859.3 362.2 L858.3 368.2 L859.9 372.2 L858.3 379.2 L855.3 382.2 L848.3 383.2 L840.3 385.2 L832.3 388.2 L827.9 391.8 L825.9 393.8 L822.6 392.2 L816.3 393.4" fill="none" stroke="rgba(165,195,245,0.62)" stroke-width="1"/>
<path d="M816.3 393.4 L813.75 396.25 L810 399.4 L808.4 401.6 L807.8 406 L806.4 401.6 L803.75 400.9 L800 401.6 L795 403.75 L790.6 406.9 L788.4 409.6 L786.9 408.1 L783.75 407.5 L778.75 407.8 L773.75 409.2 L770 411.5 L766.25 415.6 L762.5 418.1 L757.5 422.5 L754.4 425.1 L752.5 425 L751.25 423.1 L749.4 419.1 L748.4 418.75 L749.9 421.6 L747.5 424.1 L745.3 427.5 L745.1 427.9" fill="none" stroke="rgba(165,195,245,0.62)" stroke-width="1"/>
<path d="M745.1 427.9 L741.9 430.6 L738.1 433.1 L736.5 435.6 L736 441.9 L734.8 438.5 L731.5 435.6 L728.1 436.9 L728.1 440.6 L727.5 444.8 L721.5 445 L720.6 438.1 L717.5 435.2 L715 433.8 L712.5 431.2 L710 432.8 L707.8 436.2 L703.8 434.5 L700 432.5 L695.2 433.1 L692.5 436.9 L690.2 438.8 L688.8 441.5 L686.2 442.5 L683.5 441.2 L680 438.8 L677 437.5 L675.6 434.4 L673.8 436.5 L670 437.5 L665 437.5 L660 438.1 L655 438.8 L650 439.5 L646.2 438.8 L642.1 437 L640.6 433.8 L637.5 432 L632.5 430.8 L627.5 429.5 L623.8 428.1 L626.5 426.2 L631.2 425 L633.8 423.8 L631.2 421.2 L625.6 418.5 L628.8 418 L633.8 416.8 L638.8 418 L642.5 419.9 L645 419.2 L650 415.6 L655 410.5 L652.5 411.2 L646.2 414.8 L640 414.1 L636.2 413.5 L632.8 411.2 L631.9 408.1" fill="none" stroke="rgba(165,195,245,0.62)" stroke-width="1"/>
<path d="M631.9 408.1 L630.6 410 L629 409 L627.2 408.1 L625 410.6 L618.8 411.2 L615.2 407.5 L616.5 402.8 L613.5 406.5 L611.2 410 L606.2 411.2 L603 411" fill="none" stroke="rgba(165,195,245,0.62)" stroke-width="1"/>
<path d="M603 411 L596.2 412.5 L590 413.8 L586.2 416.9 L586.9 421.2 L583.8 426.2 L580 432.5 L575.6 438.1 L573.1 439.6 L570 443.8 L566.2 448.1 L562.5 451.2 L560 453.8 L555 457.5 L551.2 460.6 L547.5 462.5 L545.6 461.2 L545.2 456.2 L544 452.8 L542.8 460 L542.2 465 L543.5 468.8 L545.2 471.5 L545.9 476.2 L545 480.8 L542.5 477.5 L540 473.1 L535 471 L530 471.2 L526.2 473.1 L522.5 475.6 L516.2 478.1 L510 478.5 L509 481 L494 476 L490 467.2 L492.5 465 L498.8 466.2 L501.2 462.5 L500 458.8 L503.1 455 L507.5 452.5 L510 448.8 L510.6 443.8 L516.2 441.2 L520 436.2 L519.4 431.2 L521.2 427.5 L518.8 423.8 L519.4 417.5 L523.8 414.4 L528.1 413.8 L528.1 421.9 L532.5 419.4 L533.8 417.5 L535.6 419.4 L537.5 416.9 L541.2 420.6 L544.4 422.5 L548.1 417.5 L551.2 421.9 L555 423.8 L560 422.5 L562.2 421.6 L561.2 420 L557.5 415.6 L555 413.8 L556.2 411.2 L555.6 405 L553.8 400 L551.9 398.1" fill="none" stroke="rgba(165,195,245,0.62)" stroke-width="1"/>
<path d="M551.9 398.1 L550.2 394.2 L545.2 390.2 L542.1 384.2 L543.1 377.2 L540.1 371.1 L534.1 366.1 L529.1 362.1 L530.1 356.1 L533.1 350.1 L532.1 343.1 L527.1 336.1 L522.5 333" fill="none" stroke="rgba(165,195,245,0.62)" stroke-width="1"/>
<path d="M522.5 333 L521.3 334.6 L519.5 331.5 L517.5 328.75 L513 328 L510 326.9 L508.1 329.4 L505 326.9 L502.5 322.5 L498 321.5 L493.75 319.4 L487.5 313.75 L481.25 309.4 L477 307 L473.75 305.8" fill="none" stroke="rgba(165,195,245,0.62)" stroke-width="1"/>
<path d="M473.75 305.8 L468.4 309.2 L460.4 311.2 L454.3 310.2 L448.3 312.2 L440.3 316.2 L434.3 318.2 L429.3 320.2 L426.3 325.3 L420.3 328.3 L410.3 329.3 L400.2 330.3 L389.2 331.3 L384.2 336.3 L379.6 338" fill="none" stroke="rgba(165,195,245,0.62)" stroke-width="1"/>
<path d="M379.6 338 L378.2 337.3 L375.2 332.3 L371.2 326.3" fill="none" stroke="rgba(165,195,245,0.62)" stroke-width="1"/>
<path d="M371.2 326.3 L366.2 326.3 L360.2 324.2 L354.1 326.3 L346.1 322.2 L338.1 320.2 L330.1 318.2 L323.1 315.2 L317.1 312.2 L312.1 314.2 L307.1 316.2 L306.1 313.2 L300 308.6 L295.6 305.2 L291.4 300.2 L289.4 292.6 L284.4 288.2 L286 282.2 L291 277.2 L295 270.1 L298 264.1 L300 260.1 L303 257.1 L308.1 258.1 L312.5 259.1" fill="none" stroke="rgba(165,195,245,0.62)" stroke-width="1"/>
<path d="M312.5 259.1 L309.4 251.25 L311.25 248.75 L310.6 243.75 L310 237.5 L310.6 232.5 L312.3 230 L316 225.4 L320.8 220.7 L325.5 215.9 L330.2 211.2 L334.9 206.5 L339.6 202.7 L344.3 199 L349 195.2 L352.8 192.4 L361.3 191.9 L363.2 188.6 L366 186.7 L367.5 181" fill="none" stroke="rgba(165,195,245,0.62)" stroke-width="1"/>
<path d="M426.3 118.4 L421.3 127 L422.3 135.1 L421.3 142.1 L422.7 147.1 L428.3 148.1 L432.3 155.1 L435.3 159.1 L433.3 165.1 L431.3 173.1 L428.3 180.2 L425.3 186.2 L420.3 183.6 L412.3 184.2 L407.3 188.2 L402.2 190.2 L403.2 195.2 L399 202.5" fill="none" stroke="rgba(165,195,245,0.62)" stroke-width="1"/>
<path d="M399 202.5 L397.2 200.4 L394.3 198.5 L389.6 198 L384.9 196.1 L380.2 193.3 L378.8 190.9 L380.7 188.1 L378.3 185.3 L374.5 183.9 L369.8 182 L367.5 181" fill="none" stroke="rgba(165,195,245,0.62)" stroke-width="1"/>
<path d="M399 202.5 L401.4 204.6 L401.9 209.3 L403.8 215 L407.7 216.7" fill="none" stroke="rgba(165,195,245,0.62)" stroke-width="1"/>
<path d="M407.7 216.7 L413.3 210.4 L420.3 209 L428.3 206.6 L435.3 209.6 L437.5 213.8" fill="none" stroke="rgba(165,195,245,0.62)" stroke-width="1"/>
<path d="M437.5 213.8 L446.3 205.2 L454.3 198.2 L462.4 195.2 L469.4 193.8 L471.4 193.2" fill="none" stroke="rgba(165,195,245,0.62)" stroke-width="1"/>
<path d="M471.4 193.2 L473.4 185.2 L474 173.1 L477.4 165.1 L480.4 157.1 L485.4 149.1 L492 142.1" fill="none" stroke="rgba(165,195,245,0.62)" stroke-width="1"/>
<path d="M471.4 193.2 L473.4 204 L480.4 211 L485.4 215 L484.4 224 L482.4 230.1 L484.4 236.1 L489 239" fill="none" stroke="rgba(165,195,245,0.62)" stroke-width="1"/>
<path d="M489 239 L498.1 238.5 L510.1 237.7 L520.2 238.1 L525.2 235.1 L528.2 237.1 L529.2 246.1 L532.2 250.1 L538.2 251.1 L544.2 249.1" fill="none" stroke="rgba(165,195,245,0.62)" stroke-width="1"/>
<path d="M544.2 249.1 L545.2 243.1 L549.2 239.1 L554.2 236.1 L555.8 228.1 L554.2 220 L555.2 214 L552.2 208 L551.25 210" fill="none" stroke="rgba(165,195,245,0.62)" stroke-width="1"/>
<path d="M551.25 210 L548.1 205 L550 197.5 L551.9 190 L550 182.5 L546.9 177.5 L549.4 175 L548.75 171.25 L545 168.75 L543.75 163.75 L548.1 156.9" fill="none" stroke="rgba(165,195,245,0.62)" stroke-width="1"/>
<path d="M586.9 163.8 L585.1 171.1 L584.7 175.1 L588.5 178.7 L590.1 184.2 L594.1 189.2 L600.1 191.6 L605.1 193.2 L607.1 198.2 L611.2 203.2 L616.2 204.2 L624.2 203.2 L629.2 200.8 L634.2 203.2 L636.2 207.6 L637.5 212.5" fill="none" stroke="rgba(165,195,245,0.62)" stroke-width="1"/>
<path d="M680.7 108.6 L679.3 114 L682.3 121 L678.3 127 L674.3 132.1 L671.3 136.1 L673.3 142.1 L674.3 151.1 L672.3 159.1 L669.3 165.1 L667.3 173.1 L670.3 177.1 L674.3 178.1 L673.3 189.2 L672.3 197.2 L670 204.5" fill="none" stroke="rgba(165,195,245,0.62)" stroke-width="1"/>
<path d="M670 204.5 L666.1 209 L660.1 211.6 L650.1 212 L642 211 L637.5 212.5" fill="none" stroke="rgba(165,195,245,0.62)" stroke-width="1"/>
<path d="M637.5 212.5 L636 218" fill="none" stroke="rgba(165,195,245,0.62)" stroke-width="1"/>
<path d="M670 204.5 L678.1 204.4 L690.1 205 L696.2 207 L702.2 209 L708.2 206 L711.2 211 L715.2 217 L719.2 224 L721.2 225.7 L728.2 225.1 L733 225" fill="none" stroke="rgba(165,195,245,0.62)" stroke-width="1"/>
<path d="M757.5 212.2 L750.1 215.1 L742 218.1 L736 222.1 L733 225" fill="none" stroke="rgba(165,195,245,0.62)" stroke-width="1"/>
<path d="M841.2 235.2 L840.2 244.2 L839.2 254.2 L838.2 262.2 L838.4 268" fill="none" stroke="rgba(165,195,245,0.62)" stroke-width="1"/>
<path d="M838.4 268 L832.4 269.1 L827.4 270.1 L824.4 275.2 L821.4 280.2 L818.4 286.2 L813.4 291.2 L806.4 293.2 L799.4 294.2 L798.4 298.2 L799 303" fill="none" stroke="rgba(165,195,245,0.62)" stroke-width="1"/>
<path d="M733 225 L732.2 231.1 L735.2 235.1 L740.2 238.1 L744.2 243.1 L748.3 248.1 L752.3 251.7 L753.3 257.1 L750.3 262.1 L744.2 267.1 L738.2 270.5 L738 274.4" fill="none" stroke="rgba(165,195,245,0.62)" stroke-width="1"/>
<path d="M738 274.4 L744.2 277.2 L752.3 281.2 L760.3 284.2 L768.3 286.2 L774.3 289.2 L778.3 295.2 L782.3 300.2 L786.3 305.2 L790.3 304.2 L799 303" fill="none" stroke="rgba(165,195,245,0.62)" stroke-width="1"/>
<path d="M738 274.4 L730 276.9 L721.25 281.25 L716.25 286.25 L714.4 291.25 L713.1 296.9 L706.5 296.2 L700.6 294.6" fill="none" stroke="rgba(165,195,245,0.62)" stroke-width="1"/>
<path d="M700.6 294.6 L698.75 292.5 L695 290 L691.25 291.25 L686.25 289.4 L680 286.25 L678.75 283.1 L672.5 278.75 L667.5 275.6 L660 272.4" fill="none" stroke="rgba(165,195,245,0.62)" stroke-width="1"/>
<path d="M660 272.4 L659.1 262.1 L658.1 254.1 L653.1 247.1 L648.1 240.1 L644 232.1 L640 226.1 L636 218" fill="none" stroke="rgba(165,195,245,0.62)" stroke-width="1"/>
<path d="M554.2 273.7 L560.2 270.1 L568.3 267.1 L576.3 269.1 L584.3 266.1 L594.3 265.1 L600.3 260.1 L604.3 254.1 L605.3 246.1 L607.3 240.1 L612.3 237.1 L620.4 238.1 L625.4 239.1 L629.4 232.1 L633.4 224 L636 218" fill="none" stroke="rgba(165,195,245,0.62)" stroke-width="1"/>
<path d="M544.2 249.1 L545.2 254.1 L548.2 260.1 L547.2 264.1 L551.2 270.1 L554.2 273.7" fill="none" stroke="rgba(165,195,245,0.62)" stroke-width="1"/>
<path d="M554.2 273.7 L551.2 277.2 L549.8 282.2 L552.2 288.2 L554.2 294.2 L558.2 299.2 L561.2 304.2 L562.2 311.2" fill="none" stroke="rgba(165,195,245,0.62)" stroke-width="1"/>
<path d="M562.2 311.2 L565.3 311.2 L572.3 309.2 L580.3 306.2 L584.3 300.2 L590.3 298.2 L600.3 298.2 L610.3 299.2 L615.4 296.2 L618.4 290.2 L625.4 289.2 L632.4 289.2 L638.4 286.2 L644.4 282.2 L649.4 283.2 L651.4 288.2 L656.4 288.2 L662.8 286.2 L662 280.2 L660 272.4" fill="none" stroke="rgba(165,195,245,0.62)" stroke-width="1"/>
<path d="M562.2 311.2 L558.2 314.2 L554.2 317.2 L552.2 322.2 L554 325" fill="none" stroke="rgba(165,195,245,0.62)" stroke-width="1"/>
<path d="M554 325 L550.2 328.1 L544.1 330.1 L536.1 330.1 L528.1 329.1 L522.5 333" fill="none" stroke="rgba(165,195,245,0.62)" stroke-width="1"/>
<path d="M554 325 L559.2 324 L564.2 327.7 L570 331" fill="none" stroke="rgba(165,195,245,0.62)" stroke-width="1"/>
<path d="M570 331 L574 330.1 L584 328.1 L594.1 328.1 L602.1 327.1 L606.1 331.1 L614.1 333.1 L622.1 332.1 L625.1 337.1 L626.1 343.1 L630.1 347.1 L636.2 349.1 L644.2 348.1 L652.2 349.1 L656.2 343.1 L658.2 339.1 L664.2 337.1 L669.2 337.1" fill="none" stroke="rgba(165,195,245,0.62)" stroke-width="1"/>
<path d="M700.6 294.6 L696.25 295.6 L691.25 296.9 L689.4 298.75 L690.6 301.25 L695 302.5 L694.4 304.4 L691.25 306.25 L687.5 308.75 L685 311.25 L684.4 316.25 L683.75 322.5 L681.25 327.5 L676.25 331.25 L672.5 335 L669.2 337.1" fill="none" stroke="rgba(165,195,245,0.62)" stroke-width="1"/>
<path d="M669.2 337.1 L671.2 344.1 L670.2 352.1 L669.2 358.1" fill="none" stroke="rgba(165,195,245,0.62)" stroke-width="1"/>
<path d="M669.2 358.1 L675.2 363.1 L682.2 364.5 L688.3 363.1 L693.3 365.7 L704.3 366.1 L712.5 365.8" fill="none" stroke="rgba(165,195,245,0.62)" stroke-width="1"/>
<path d="M795.8 342.1 L790.2 344.1 L784.2 344.5 L780.2 342.1 L777.2 336.1 L772.1 333.7 L766.1 332.1 L760.1 331.1 L752.1 330.1 L744.1 331.1 L738.1 334.1 L735.1 340.1 L734.1 346.2 L737.1 352.2 L737.1 359.2 L734.1 362.2 L728.1 362.6 L720 364.2 L712.5 365.8" fill="none" stroke="rgba(165,195,245,0.62)" stroke-width="1"/>
<path d="M799 303 L804.2 306.1 L803.2 313.1 L805.2 320.1 L806.2 328.1 L800.2 331.1 L797.2 335.1 L795.8 342.1" fill="none" stroke="rgba(165,195,245,0.62)" stroke-width="1"/>
<path d="M838.4 268 L840.3 273 L844.3 278 L848.3 283 L850.3 288 L853.3 294 L854.3 302.1 L858.3 308.1 L860.3 313.1 L865.3 317.1 L870.3 323.1 L876.4 328.1 L884.4 333.7 L884.4 337" fill="none" stroke="rgba(165,195,245,0.62)" stroke-width="1"/>
<path d="M816.3 393.4 L816.2 387.2 L811.2 382.2 L810.2 376.2 L814.2 372.2 L819.2 368.2 L820.2 364.2 L812.2 361.2 L806.2 357.2 L802.2 352.2 L799.2 347.2 L795.8 342.1" fill="none" stroke="rgba(165,195,245,0.62)" stroke-width="1"/>
<path d="M712.5 365.8 L714.3 374.1 L720.3 377.2 L722.3 384.2 L726.3 392.2 L731.3 398.2 L730.3 406.2 L734.3 414.2 L740.4 418.2 L743.8 421.2 L745.1 427.9" fill="none" stroke="rgba(165,195,245,0.62)" stroke-width="1"/>
<path d="M669.2 358.1 L672.2 362.1 L673.2 369.1 L671.6 370.5 L672.2 376.2 L673.2 381.2 L666.2 384.2 L668.2 391.2 L665.2 398.2 L660.2 400.2 L652.2 400.2 L646.2 402.2 L640.2 404.2 L634.1 405.2 L631.9 408.1" fill="none" stroke="rgba(165,195,245,0.62)" stroke-width="1"/>
<path d="M570 331 L569.2 336.1 L572.2 342.1 L574.2 348.1 L576.2 354.1 L582.2 357.1 L589.2 359.1 L591.2 366.1 L592.2 373.1 L598.3 378.2 L604.3 380.2 L606.3 386.2 L603.3 391.2 L598.3 394.2 L598.3 400.2 L601.3 406.2 L603 411" fill="none" stroke="rgba(165,195,245,0.62)" stroke-width="1"/>
<path d="M312.5 259.1 L317.1 266.1 L322.1 271.1 L329.1 275.8 L336.1 278.6" fill="none" stroke="rgba(165,195,245,0.62)" stroke-width="1"/>
<path d="M336.1 278.6 L338.1 269.1 L341.1 263.1 L348.1 260.7 L360.2 259.5 L369.6 258.5 L368.2 253.1 L371.2 248.1 L372.2 243.1 L376.2 242.1 L380.2 241.1" fill="none" stroke="rgba(165,195,245,0.62)" stroke-width="1"/>
<path d="M380.2 241.1 L384.2 239.1 L392.2 234.1 L397.2 230.1 L400.2 226.1 L408.3 221.6 L407.7 216.7" fill="none" stroke="rgba(165,195,245,0.62)" stroke-width="1"/>
<path d="M380.2 241.1 L382.6 250.1 L384.2 260.1 L386.2 268.1 L392.2 274.1 L395.8 280.2 L402.6 282.6 L408.3 288.2 L408.3 291.2" fill="none" stroke="rgba(165,195,245,0.62)" stroke-width="1"/>
<path d="M437.5 213.8 L434.3 222 L433.3 230.1 L434.3 240.1 L432.3 248.1 L433.3 258.1 L431.3 268.1 L429.3 276.2 L430.3 286.2 L432.3 294.2 L434.3 299.6" fill="none" stroke="rgba(165,195,245,0.62)" stroke-width="1"/>
<path d="M408.3 291.2 L412.3 292.2 L418.3 294.2 L423.3 297.8 L429.3 298.6 L434.3 299.6" fill="none" stroke="rgba(165,195,245,0.62)" stroke-width="1"/>
<path d="M434.3 299.6 L440.3 303.2 L446.3 300.2 L454.3 299.8 L462.4 299.2 L471.3 299" fill="none" stroke="rgba(165,195,245,0.62)" stroke-width="1"/>
<path d="M489 239 L488.1 246.1 L487.1 253.1 L489.1 260.1 L489.1 268.1 L486.1 271.1 L479.1 272.1 L475.1 275.2 L473.1 282.2 L471.1 290.2 L471.1 296.2 L471.3 299" fill="none" stroke="rgba(165,195,245,0.62)" stroke-width="1"/>
<path d="M471.3 299 L473.75 305.8" fill="none" stroke="rgba(165,195,245,0.62)" stroke-width="1"/>
<path d="M408.3 291.2 L406.7 298.2 L405.3 304.2 L398.2 308.2 L392.2 312.2 L386.2 318.2 L382.2 324.2 L380.2 331.3 L379.6 338" fill="none" stroke="rgba(165,195,245,0.62)" stroke-width="1"/>
<path d="M336.1 278.6 L340.1 282.2 L344.1 286.2 L347.1 291.2 L349.1 293.2 L355.2 292.6 L356.2 298.2 L360.2 301.2 L364.2 305.2 L367.2 312.2 L369.2 318.2 L370.2 324.2 L371.2 326.3" fill="none" stroke="rgba(165,195,245,0.62)" stroke-width="1"/>
<text x="397.6" y="164" class="dl" fill="#fff" stroke="#000">10651</text>
<text x="450.6" y="177" class="dl" fill="#fff" stroke="#000">3982</text>
<text x="515.9" y="196" class="dl" fill="#fff" stroke="#000">8373</text>
<text x="630.9" y="167" class="dl" fill="#000" stroke="#fff">39209</text>
<text x="710.6" y="195" class="dl" fill="#000" stroke="#fff">26870</text>
<text x="584" y="215" class="dl" fill="#fff" stroke="#000">10323</text>
<text x="349.6" y="238" class="dl" fill="#000" stroke="#fff">36240</text>
<text x="411.25" y="257" class="dl" fill="#fff" stroke="#000">3668</text>
<text x="460.3" y="252" class="dl" fill="#000" stroke="#fff">17264</text>
<text x="578.1" y="244" class="dl" fill="#000" stroke="#fff">16997</text>
<text x="703.1" y="258" class="dl" fill="#000" stroke="#fff">46832</text>
<text x="787.2" y="253" class="dl" fill="#000" stroke="#fff">94806</text>
<text x="877.3" y="287" class="dl" fill="#fff" stroke="#000">2854</text>
<text x="325.6" y="301" class="dl" fill="#fff" stroke="#000">7945</text>
<text x="372.1" y="292" class="dl" fill="#fff" stroke="#000">5291</text>
<text x="520.25" y="293" class="dl" fill="#fff" stroke="#000">11738</text>
<text x="608.4" y="278" class="dl" fill="#fff" stroke="#000">14079</text>
<text x="647.5" y="319" class="dl" fill="#fff" stroke="#000">10316</text>
<text x="714" y="336" class="dl" fill="#000" stroke="#fff">100326</text>
<text x="831.9" y="340" class="dl" fill="#000" stroke="#fff">79778</text>
<text x="416.25" y="317" class="dl" fill="#fff" stroke="#000">10878</text>
<text x="567.8" y="382" class="dl" fill="#fff" stroke="#000">14854</text>
<text x="632.5" y="377" class="dl" fill="#000" stroke="#fff">29341</text>
<text x="764" y="380" class="dl" fill="#000" stroke="#fff">44738</text>
<text x="684.4" y="409" class="dl" fill="#fff" stroke="#000">5320</text>
</g>
<g id="legend">
<rect x="482" y="569" width="230" height="13" rx="3" ry="3" fill="url(#lg)"/>
<path d="M527.5 569V582M573.5 569V582M619.5 569V582M665.5 569V582" stroke="#fff" stroke-width="1" fill="none" opacity="0.9"/>
<text x="486.5" y="605.3" class="ax">0</text>
<text x="528.9" y="605.3" class="ax">25k</text>
<text x="574.3" y="605.3" class="ax">50k</text>
<text x="620.6" y="605.3" class="ax">75k</text>
<text x="666.4" y="605.3" class="ax">100k</text>
<text x="689.5" y="605.3" class="ax" style="font-weight:bold;text-anchor:start">1…</text>
</g>
<g id="logo">
<g clip-path="url(#cc)">
<rect x="533" y="647" width="28" height="28" fill="url(#lgo)"/>
<path d="M533 659.6 L542.6 659.6 L544.7 654 L546.9 659.6 L549.1 664.2 L551.2 659.6 L560 659.6 L560 675 L533 675 Z" fill="url(#lgy)"/>
</g>
<text x="563.6" y="666" class="logo" textLength="103.2" lengthAdjust="spacingAndGlyphs">Опендатабот</text>
</g>
</svg>
</body></html>
